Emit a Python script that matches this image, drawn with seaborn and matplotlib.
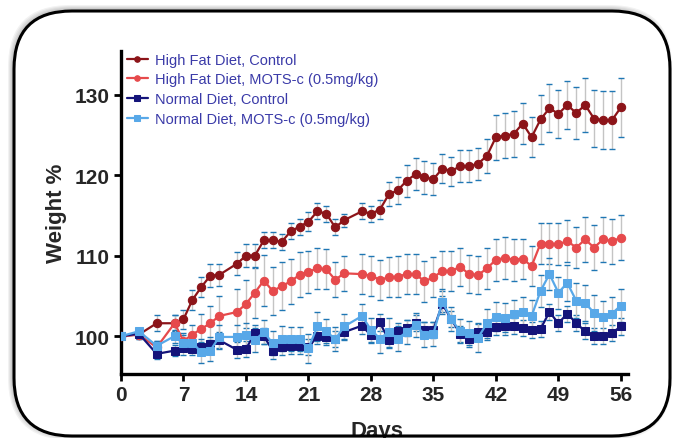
import matplotlib
matplotlib.use("Agg")
import matplotlib.pyplot as plt
from matplotlib.patches import FancyBboxPatch
from matplotlib.transforms import IdentityTransform
import seaborn as sns
import pandas as pd

days = [0, 2, 4, 6, 7, 8, 9, 10, 11, 13, 14, 15, 16, 17, 18, 19, 20, 21, 22, 23, 24, 25,
        27, 28, 29, 30, 31, 32, 33, 34, 35, 36, 37, 38, 39, 40, 41, 42, 43, 44, 45, 46,
        47, 48, 49, 50, 51, 52, 53, 54, 55, 56]

hfd_ctrl = [100, 100.2, 101.6, 101.6, 102.1, 104.5, 106.1, 107.5, 107.6, 109.0,
            110.0, 110.0, 111.9, 111.9, 111.7, 113.0, 113.6, 114.2, 115.5, 115.2,
            113.5, 114.4, 115.5, 115.2, 115.7, 117.6, 118.1, 119.3, 120.1, 119.7,
            119.5, 120.8, 120.5, 121.1, 121.1, 121.4, 122.4, 124.7, 124.9, 125.1,
            126.4, 124.7, 126.9, 128.3, 127.6, 128.7, 127.7, 128.7, 127.0, 126.8,
            126.8, 128.4]
hfd_mots = [100, 100.2, 98.6, 101.6, 99.4, 100.2, 100.9, 101.6, 102.5, 103.0,
            104.0, 105.4, 106.9, 105.6, 106.2, 106.8, 107.6, 108.0, 108.4, 108.3,
            107.0, 107.8, 107.7, 107.5, 107.0, 107.3, 107.4, 107.7, 107.7, 106.8,
            107.3, 108.1, 108.1, 108.6, 107.7, 107.6, 108.4, 109.5, 109.7, 109.5,
            109.6, 108.7, 111.5, 111.5, 111.4, 111.8, 111.0, 112.0, 111.0, 112.0,
            111.8, 112.2]
nd_ctrl = [100, 100.3, 97.8, 98.2, 98.5, 98.4, 98.7, 99.0, 99.5, 98.3,
           98.4, 100.4, 100.0, 98.2, 98.6, 98.8, 98.8, 98.6, 100.0, 99.9,
           99.7, 100.5, 101.3, 100.1, 101.7, 99.5, 100.6, 101.0, 101.6, 100.8,
           100.8, 104.0, 102.1, 100.3, 99.6, 100.5, 100.5, 101.1, 101.2, 101.3,
           101.0, 100.8, 100.9, 103.0, 101.6, 102.8, 101.6, 100.6, 100.0, 100.0,
           100.4, 101.2]
nd_mots = [100, 100.6, 98.8, 100.0, 99.1, 99.2, 98.0, 98.2, 99.9, 99.9,
           100.1, 99.5, 100.5, 99.1, 99.7, 99.6, 99.6, 98.5, 101.2, 100.6,
           99.6, 101.2, 102.5, 100.8, 99.7, 100.5, 99.7, 100.5, 101.4, 100.2,
           100.3, 104.3, 102.1, 100.6, 100.4, 99.8, 101.6, 102.4, 102.3, 102.7,
           103.0, 102.5, 105.6, 107.7, 105.4, 106.6, 104.4, 104.1, 102.9, 102.4,
           102.8, 103.8]

hfd_ctrl_err = [0, 0.5, 1.0, 1.0, 1.2, 1.2, 1.3, 1.4, 1.4, 1.4,
                1.4, 1.5, 1.0, 1.0, 1.0, 1.0, 1.0, 1.2, 1.0, 1.0,
                1.0, 0.8, 1.0, 1.0, 1.2, 1.5, 1.7, 2.0, 2.0, 2.0,
                2.0, 1.8, 1.8, 2.0, 2.0, 2.0, 2.1, 2.8, 2.8, 2.8,
                2.5, 2.5, 3.0, 3.0, 3.0, 3.0, 3.2, 3.3, 3.5, 3.6,
                3.6, 3.7]
hfd_mots_err = [0, 0.5, 0.8, 1.0, 1.0, 1.2, 1.8, 2.2, 2.5, 2.8,
                3.0, 3.2, 3.2, 3.0, 3.0, 2.8, 2.8, 2.6, 2.5, 2.5,
                2.2, 2.2, 2.5, 2.5, 2.5, 2.5, 2.5, 2.5, 2.5, 2.5,
                2.5, 2.5, 2.5, 2.4, 2.4, 2.4, 2.5, 2.6, 2.6, 2.6,
                2.5, 2.5, 2.5, 2.6, 2.6, 2.6, 2.6, 2.8, 2.8, 2.8,
                2.8, 2.8]
nd_ctrl_err = [0, 0.4, 0.6, 0.7, 0.8, 0.8, 0.9, 0.9, 1.0, 1.0,
               1.0, 1.0, 1.0, 1.0, 1.0, 1.0, 1.0, 1.0, 1.0, 1.0,
               1.0, 1.0, 1.0, 1.0, 1.0, 1.0, 1.0, 1.0, 1.0, 1.0,
               1.0, 1.0, 1.0, 1.0, 1.0, 1.0, 1.0, 1.0, 1.0, 1.0,
               1.0, 1.0, 1.0, 1.0, 1.0, 1.0, 1.0, 1.0, 1.0, 1.0,
               1.0, 1.0]
nd_mots_err = [0, 0.4, 0.6, 0.8, 1.0, 1.2, 1.3, 1.3, 1.5, 1.5,
               1.5, 1.5, 1.5, 1.5, 1.5, 1.5, 1.5, 1.8, 1.8, 1.5,
               1.5, 1.5, 1.5, 1.5, 1.8, 1.8, 1.5, 1.5, 1.5, 1.5,
               1.5, 1.5, 1.5, 1.5, 1.5, 1.8, 1.8, 1.8, 1.8, 1.8,
               1.8, 2.0, 2.0, 2.0, 2.0, 2.2, 2.2, 2.2, 2.2, 2.0,
               2.0, 2.0]

labels = ["High Fat Diet, Control", "High Fat Diet, MOTS-c (0.5mg/kg)",
          "Normal Diet, Control", "Normal Diet, MOTS-c (0.5mg/kg)"]
colors = ["#8c1419", "#e64a4c", "#14147a", "#58a8e8"]
markers = ["o", "o", "s", "s"]
x_ticks = [0, 7, 14, 21, 28, 35, 42, 49, 56]
y_ticks = [100, 110, 120, 130]

series = [hfd_ctrl, hfd_mots, nd_ctrl, nd_mots]
errs = [hfd_ctrl_err, hfd_mots_err, nd_ctrl_err, nd_mots_err]
rows = []
for lab, vals, ee in zip(labels, series, errs):
    for d, v, e in zip(days, vals, ee):
        rows.append({"day": d, "weight": v, "err": e, "group": lab})
df = pd.DataFrame(rows)

sns.set_style("ticks")
plt.rcParams["font.family"] = ["Liberation Sans", "DejaVu Sans"]

fig = plt.figure(figsize=(6.76, 4.39), dpi=100)
fig.patch.set_facecolor("white")

# soft shadow + white card with rounded border
for i, a in enumerate([0.05, 0.05, 0.05, 0.06]):
    off = 4 - i
    fig.patches.append(FancyBboxPatch((14 - off - 2, 2 - off), 656 + 2 * off, 425 + 2 * off + 2,
                                      boxstyle="round,pad=0,rounding_size=62",
                                      transform=IdentityTransform(), facecolor="#000000",
                                      edgecolor="none", alpha=a, zorder=-3))
fig.patches.append(FancyBboxPatch((14, 2), 656, 425, boxstyle="round,pad=0,rounding_size=58",
                                  transform=IdentityTransform(), facecolor="white",
                                  edgecolor="none", zorder=-2))
fig.patches.append(FancyBboxPatch((14, 2), 656, 425, boxstyle="round,pad=0,rounding_size=58",
                                  transform=IdentityTransform(), facecolor="none",
                                  edgecolor="black", linewidth=2.2, zorder=10))

ax = fig.add_axes([0.179, 0.1458, 0.750, 0.7357])
ax.set_facecolor("none")

for lab, c in zip(labels, colors):
    sub = df[df["group"] == lab]
    ax.errorbar(sub["day"], sub["weight"], yerr=sub["err"], fmt="none",
                ecolor="#c4c4c4", elinewidth=1.0, capsize=2.5, capthick=1.0, zorder=1)

sns.lineplot(data=df, x="day", y="weight", hue="group", style="group",
             hue_order=labels, style_order=labels, palette=colors,
             markers=dict(zip(labels, markers)), dashes=False,
             linewidth=1.6, markersize=6, ax=ax, zorder=3)
for line in ax.lines:
    line.set_markeredgecolor(line.get_color())

handles, labs = ax.get_legend_handles_labels()
for h in handles:
    h.set_markeredgecolor(h.get_color())
    h.set_markersize(4)
leg = ax.legend(handles, labs, loc="upper left", bbox_to_anchor=(0.012, 0.995),
                frameon=False, fontsize=10.5, handlelength=1.4, handletextpad=0.5,
                labelspacing=0.4, borderpad=0, borderaxespad=0)
for t in leg.get_texts():
    t.set_color("#3a3aa8")

ax.set_xlim(0, 56.8)
ax.set_ylim(95.3, 135.4)
ax.set_xticks(x_ticks)
ax.set_yticks(y_ticks)
ax.set_xticklabels([str(t) for t in x_ticks], fontsize=15, fontweight="bold")
ax.set_yticklabels([str(t) for t in y_ticks], fontsize=15, fontweight="bold")
ax.tick_params(axis="both", width=2, length=5, pad=3, color="black")
sns.despine(ax=ax)
for s in ["left", "bottom"]:
    ax.spines[s].set_linewidth(2.4)
    ax.spines[s].set_color("black")

ax.set_ylabel("Weight %", fontsize=16, fontweight="bold")
ax.yaxis.set_label_coords(-0.106, 0.5)
ax.set_xlabel("")
fig.text(377 / 676, 1 - 421 / 439, "Days", ha="center", va="top",
         fontsize=16, fontweight="bold", zorder=5)

fig.savefig("out.png", dpi=100)
